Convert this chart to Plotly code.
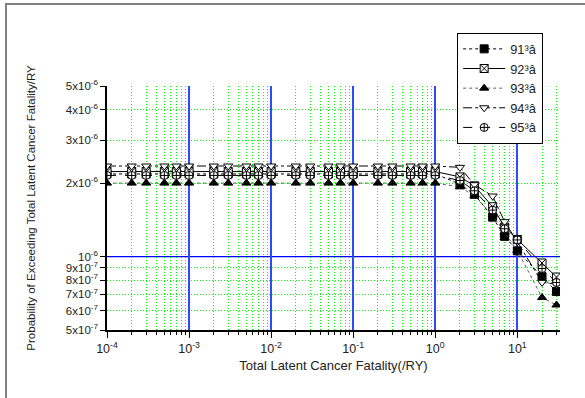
import plotly.graph_objects as go
import math

# ---------------- data ----------------
x_vals = [1e-4, 2e-4, 3e-4, 5e-4, 7e-4,
          1e-3, 2e-3, 3e-3, 5e-3, 7e-3,
          1e-2, 2e-2, 3e-2, 5e-2, 7e-2,
          1e-1, 2e-1, 3e-1, 5e-1, 7e-1,
          1.0, 2.0, 3.0, 5.0, 7.0, 10.0, 20.0, 30.0]

s91 = [2.18e-6, 2.18e-6, 2.18e-6, 2.18e-6, 2.18e-6, 2.18e-6, 2.18e-6, 2.18e-6, 2.18e-6, 2.18e-6,
       2.18e-6, 2.18e-6, 2.18e-6, 2.18e-6, 2.18e-6, 2.18e-6, 2.18e-6, 2.18e-6, 2.18e-6, 2.18e-6,
       2.18e-6, 1.98e-6, 1.80e-6, 1.45e-6, 1.21e-6, 1.055e-6, 8.27e-7, 7.19e-7]
s92 = [2.23e-6, 2.23e-6, 2.23e-6, 2.23e-6, 2.23e-6, 2.23e-6, 2.23e-6, 2.23e-6, 2.23e-6, 2.23e-6,
       2.23e-6, 2.23e-6, 2.23e-6, 2.23e-6, 2.23e-6, 2.23e-6, 2.23e-6, 2.23e-6, 2.23e-6, 2.23e-6,
       2.23e-6, 2.12e-6, 1.95e-6, 1.60e-6, 1.32e-6, 1.175e-6, 9.41e-7, 8.24e-7]
s93 = [2.00e-6, 2.00e-6, 2.00e-6, 2.00e-6, 2.00e-6, 2.00e-6, 2.00e-6, 2.00e-6, 2.00e-6, 2.00e-6,
       2.00e-6, 2.00e-6, 2.00e-6, 2.00e-6, 2.00e-6, 2.00e-6, 2.00e-6, 2.00e-6, 2.00e-6, 2.00e-6,
       2.00e-6, 1.93e-6, 1.77e-6, 1.48e-6, 1.25e-6, 1.06e-6, 6.79e-7, 6.33e-7]
s94 = [2.35e-6, 2.35e-6, 2.35e-6, 2.35e-6, 2.35e-6, 2.35e-6, 2.35e-6, 2.35e-6, 2.35e-6, 2.35e-6,
       2.35e-6, 2.35e-6, 2.35e-6, 2.35e-6, 2.35e-6, 2.35e-6, 2.35e-6, 2.35e-6, 2.35e-6, 2.35e-6,
       2.35e-6, 2.32e-6, 1.97e-6, 1.77e-6, 1.39e-6, 1.15e-6, 7.84e-7, 7.70e-7]
s95 = [2.15e-6, 2.15e-6, 2.15e-6, 2.15e-6, 2.15e-6, 2.15e-6, 2.15e-6, 2.15e-6, 2.15e-6, 2.15e-6,
       2.15e-6, 2.15e-6, 2.15e-6, 2.15e-6, 2.15e-6, 2.15e-6, 2.15e-6, 2.15e-6, 2.15e-6, 2.15e-6,
       2.15e-6, 2.05e-6, 1.86e-6, 1.55e-6, 1.30e-6, 1.17e-6, 8.93e-7, 7.83e-7]

series_names = ["91\u00b3\u00e2", "92\u00b3\u00e2", "93\u00b3\u00e2", "94\u00b3\u00e2", "95\u00b3\u00e2"]

x_major = [1e-4, 1e-3, 1e-2, 1e-1, 1, 10]
x_major_text = ["10<sup>-4</sup>", "10<sup>-3</sup>", "10<sup>-2</sup>", "10<sup>-1</sup>",
                "10<sup>0</sup>", "10<sup>1</sup>"]
x_minor = [2e-4, 3e-4, 4e-4, 5e-4, 6e-4, 7e-4, 8e-4, 9e-4,
           2e-3, 3e-3, 4e-3, 5e-3, 6e-3, 7e-3, 8e-3, 9e-3,
           2e-2, 3e-2, 4e-2, 5e-2, 6e-2, 7e-2, 8e-2, 9e-2,
           2e-1, 3e-1, 4e-1, 5e-1, 6e-1, 7e-1, 8e-1, 9e-1,
           2, 3, 4, 5, 6, 7, 8, 9, 20, 30]

y_ticks = [5e-7, 6e-7, 7e-7, 8e-7, 9e-7, 1e-6, 2e-6, 3e-6, 4e-6, 5e-6]
y_tick_text = ["5x10<sup>-7</sup>", "6x10<sup>-7</sup>", "7x10<sup>-7</sup>", "8x10<sup>-7</sup>",
               "9x10<sup>-7</sup>", "10<sup>-6</sup>", "2x10<sup>-6</sup>", "3x10<sup>-6</sup>",
               "4x10<sup>-6</sup>", "5x10<sup>-6</sup>"]
y_minor = [6e-7, 7e-7, 8e-7, 9e-7, 2e-6, 3e-6, 4e-6]
y_blue = 1e-6

# ---------------- figure ----------------
FONT = "Liberation Sans, Arial, sans-serif"
GREEN_DOT = "1px,2px"
styles = [
    dict(dash="dot", lcolor="black", symbol="square", mcolor="black"),
    dict(dash="solid", lcolor="black", symbol="square-x", mcolor="white"),
    dict(dash="dot", lcolor="#606060", symbol="triangle-up", mcolor="black"),
    dict(dash="dashdot", lcolor="black", symbol="triangle-down", mcolor="white"),
    dict(dash="dash", lcolor="black", symbol="circle-cross", mcolor="white"),
]
data = [s91, s92, s93, s94, s95]

fig = go.Figure()
for name, ys, st in zip(series_names, data, styles):
    fig.add_trace(go.Scatter(
        x=x_vals, y=ys, name=name, mode="lines+markers",
        line=dict(color=st["lcolor"], width=1, dash=st["dash"]),
        marker=dict(symbol=st["symbol"], size=8, color=st["mcolor"],
                    line=dict(color="black", width=1)),
    ))

fig.add_shape(type="line", xref="paper", x0=0, x1=1, yref="y", y0=y_blue, y1=y_blue,
              line=dict(color="#0000ff", width=1.2), layer="below")
fig.add_shape(type="rect", xref="paper", yref="paper", x0=-0.223, x1=1.4, y0=-0.7, y1=1.336,
              line=dict(color="#808080", width=2), layer="below")

fig.update_layout(
    width=585, height=398,
    margin=dict(l=107, r=25, t=86, b=68),
    paper_bgcolor="white", plot_bgcolor="white",
    font=dict(family=FONT, color="#222", size=12),
    showlegend=True,
    legend=dict(x=0.773, y=1.217, xanchor="left", yanchor="top",
                bgcolor="white", bordercolor="black", borderwidth=1,
                font=dict(size=12.8, family=FONT, color="#222"),
                itemwidth=42, entrywidth=42, entrywidthmode="pixels",
                tracegroupgap=0),
)

fig.update_xaxes(
    type="log", range=[-4, 1.52],
    tickmode="array", tickvals=x_major, ticktext=x_major_text,
    ticks="outside", ticklen=6, tickcolor="black",
    showgrid=True, gridcolor="#2a4bff", gridwidth=1.5,
    minor=dict(tickmode="array", tickvals=x_minor, ticks="outside", ticklen=3,
               tickcolor="black", showgrid=True, gridcolor="#00ff00", griddash=GREEN_DOT, gridwidth=1),
    showline=True, linecolor="black", linewidth=1.5,
    zeroline=False,
    tickfont=dict(size=12.5, family=FONT, color="#222"),
    title=dict(text="Total Latent Cancer Fatality(/RY)", font=dict(size=13, family=FONT, color="#222"),
               standoff=6),
)
fig.update_yaxes(
    type="log", range=[math.log10(5e-7), math.log10(5e-6)],
    tickmode="array", tickvals=y_ticks, ticktext=y_tick_text,
    ticks="outside", ticklen=5, tickcolor="black",
    showgrid=False,
    minor=dict(tickmode="array", tickvals=y_minor, ticks="", showgrid=True,
               gridcolor="#00ff00", griddash=GREEN_DOT, gridwidth=1),
    showline=True, linecolor="black", linewidth=1.5,
    zeroline=False,
    tickfont=dict(size=11.5, family=FONT, color="#222"),
    title=dict(text="Probability of Exceeding Total Latent Cancer Fatality/RY",
               font=dict(size=11.5, family=FONT, color="#222"), standoff=28),
)

fig.write_html("out.html", config={"displayModeBar": False},
               post_script="document.body.style.margin='0px';")
